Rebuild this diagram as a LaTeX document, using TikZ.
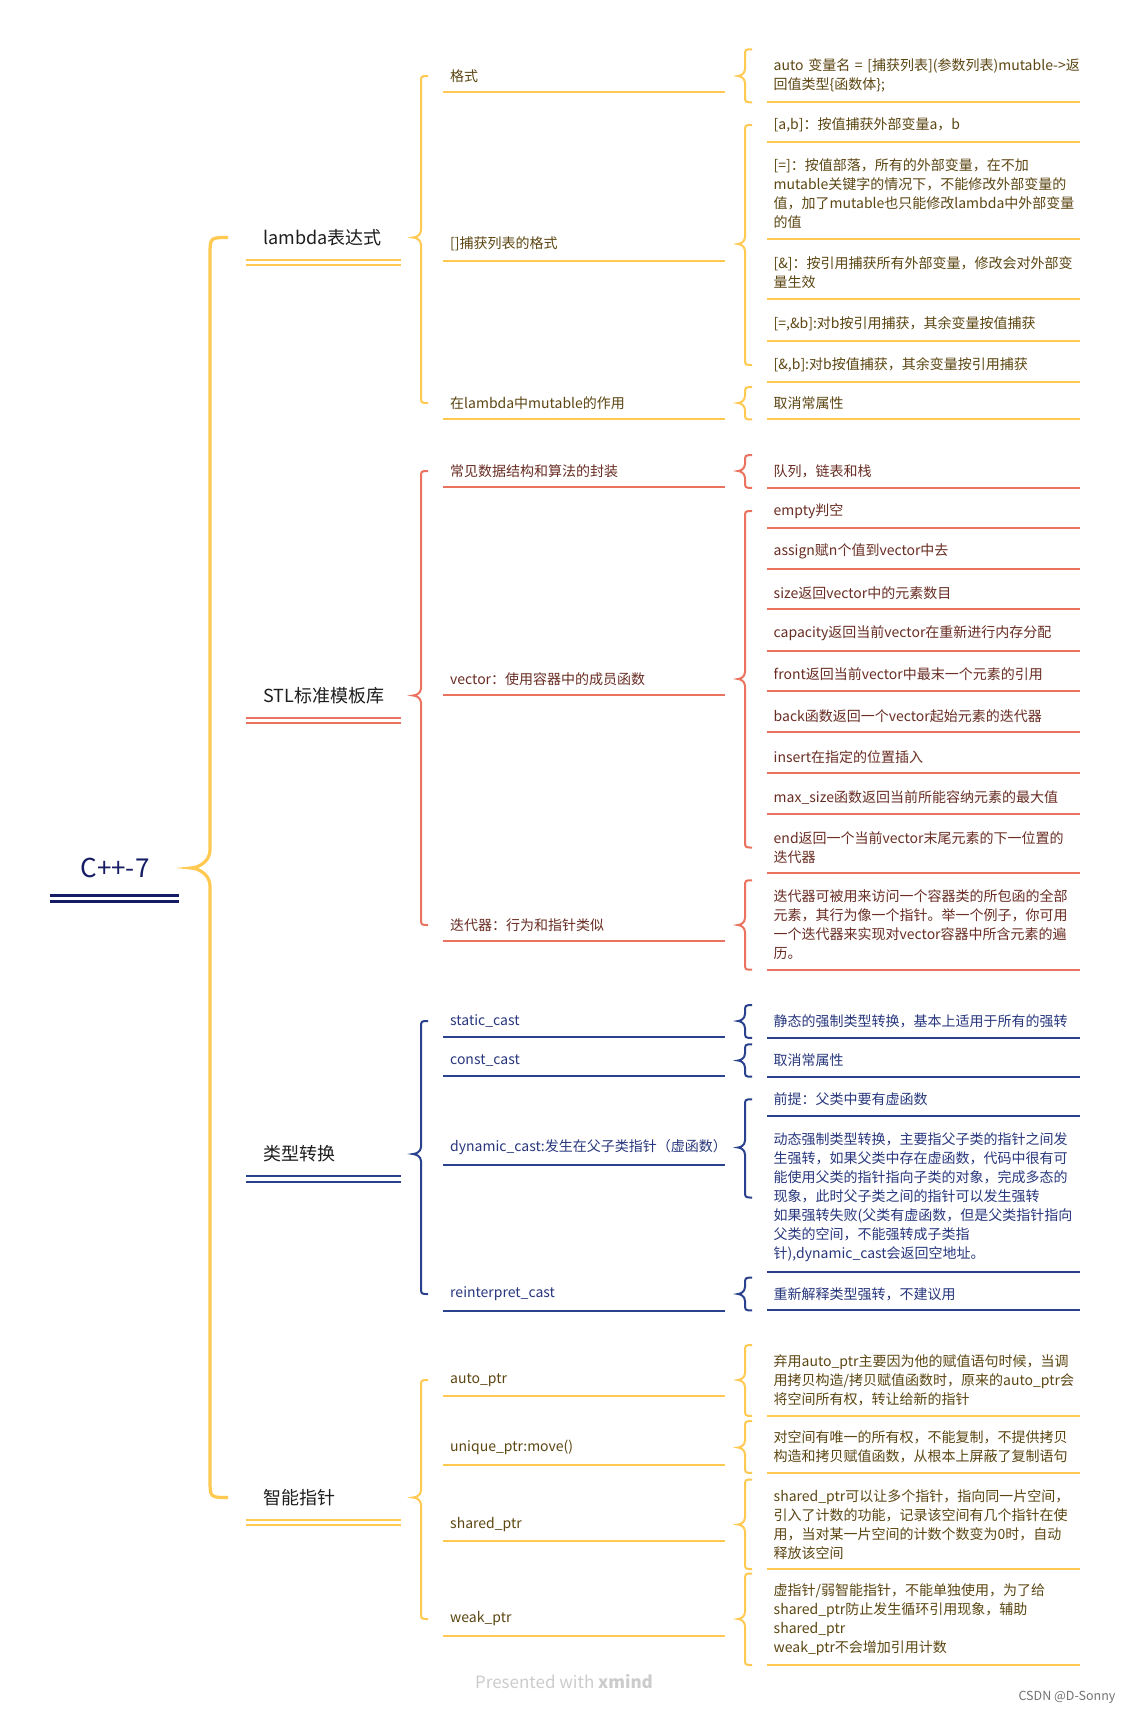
\documentclass[tikz,border=0pt]{standalone}
\usepackage{fontspec}
\setmainfont{Noto Sans CJK SC}
\usetikzlibrary{calc}

\definecolor{yel}{RGB}{255,201,82}
\definecolor{yeltxt}{RGB}{92,70,18}
\definecolor{cor}{RGB}{234,114,94}
\definecolor{cortxt}{RGB}{105,45,35}
\definecolor{blu}{RGB}{42,66,142}
\definecolor{blutxt}{RGB}{40,55,125}
\definecolor{navy}{RGB}{22,28,100}
\definecolor{ink}{RGB}{30,30,30}

% curly bracket: style, spine offset, radius, tip, top, bottom
\newcommand\curly[6]{%
  \draw[#1] let \p1=#4, \p2=#5, \p3=#6 in
    (\x1+#2pt+#3pt,\y2) .. controls (\x1+#2pt,\y2) .. (\x1+#2pt,\y2-#3pt)
    -- (\x1+#2pt,\y1+#3pt) .. controls (\x1+#2pt,\y1+0.3*#3pt) and (\x1+0.3*#2pt,\y1) .. (\x1,\y1)
    .. controls (\x1+0.3*#2pt,\y1) and (\x1+#2pt,\y1-0.3*#3pt) .. (\x1+#2pt,\y1-#3pt)
    -- (\x1+#2pt,\y3+#3pt) .. controls (\x1+#2pt,\y3) .. (\x1+#2pt+#3pt,\y3);}

\begin{document}
\begin{tikzpicture}[x=1pt, y=1pt,
  rootnode/.style={font=\fontsize{26pt}{30pt}\selectfont, text=navy, inner sep=0pt,
    append after command={([xshift=-65pt,yshift=-30.3pt]\tikzlastnode.center)
      edge[draw=navy, line width=2.8pt, double=white, double distance=3pt]
      ([xshift=64pt,yshift=-30.3pt]\tikzlastnode.center)}},
  topic/.style={font=\fontsize{18pt}{22pt}\selectfont, text=ink, anchor=west,
    text width=138pt, inner xsep=0pt, inner ysep=16.25pt, text height=15pt, text depth=2pt,
    append after command={([xshift=-17pt]\tikzlastnode.south west)
      edge[draw=#1, line width=2pt, double=white, double distance=3.3pt]
      (\tikzlastnode.south east)}},
  sub/.style={font=\fontsize{14pt}{19pt}\selectfont, text=#1txt, anchor=west, align=left,
    text width=275pt, inner xsep=0pt, inner ysep=9.5pt,
    append after command={([xshift=-7pt]\tikzlastnode.south west)
      edge[draw=#1, line width=2pt] (\tikzlastnode.south east)}},
  leaf/.style={font=\fontsize{14pt}{19pt}\selectfont, text=#1txt, anchor=west, align=left,
    text width=306pt, inner xsep=0pt, inner ysep=9.5pt,
    append after command={([xshift=-6.5pt]\tikzlastnode.south west)
      edge[draw=#1, line width=2pt] (\tikzlastnode.south east)}},
]

% --- canvas
\fill[white] (0,0) rectangle (1130,-1714);
\useasboundingbox (0,0) rectangle (1130,-1714);

\def\xB{263}    % topic text
\def\xC{450}    % subtopic text
\def\xD{773.5}  % leaf text
\coordinate (tipA) at (191,0);
\coordinate (tipB) at (413,0);
\coordinate (tipC) at (738,0);

% --- root and topics
\node[rootnode] (root) at (115,-868) {C++-7};
\node[topic=yel] (lam) at (\xB,-237.5) {lambda表达式};
\node[topic=cor] (stl) at (\xB,-695.5) {STL标准模板库};
\node[topic=blu] (cast) at (\xB,-1154) {类型转换};
\node[topic=yel] (ptr) at (\xB,-1497.5) {智能指针};

% --- subtopics
\node[sub=yel] (lamFmt) at (\xC,-76) {格式};
\node[sub=yel] (lamCap) at (\xC,-244) {[]捕获列表的格式};
\node[sub=yel] (lamMut) at (\xC,-403) {在lambda中mutable的作用};
\node[sub=cor] (stlWrap) at (\xC,-471) {常见数据结构和算法的封装};
\node[sub=cor] (stlVec) at (\xC,-679) {vector：使用容器中的成员函数};
\node[sub=cor] (stlIter) at (\xC,-925) {迭代器：行为和指针类似};
\node[sub=blu] (castSta) at (\xC,-1021) {static\_cast};
\node[sub=blu] (castCon) at (\xC,-1060.5) {const\_cast};
\node[sub=blu] (castDyn) at (\xC,-1147.5) {dynamic\_cast:发生在父子类指针（虚函数）};
\node[sub=blu] (castRei) at (\xC,-1294) {reinterpret\_cast};
\node[sub=yel] (ptrAuto) at (\xC,-1380) {auto\_ptr};
\node[sub=yel] (ptrUni) at (\xC,-1447.5) {unique\_ptr:move()};
\node[sub=yel] (ptrSha) at (\xC,-1524.5) {shared\_ptr};
\node[sub=yel] (ptrWeak) at (\xC,-1619) {weak\_ptr};

% --- leaves: lambda
\node[leaf=yel] (fmtA) at (\xD,-75.8) {\mbox{auto 变量名 = [捕获列表](参数列表)mutable->返}\\回值类型\{函数体\};};
\node[leaf=yel] (capA) at (\xD,-125) {[a,b]：按值捕获外部变量a，b};
\node[leaf=yel] (capB) at (\xD,-193.8) {[=]：按值部落，所有的外部变量，在不加\\mutable关键字的情况下，不能修改外部变量的\\值，加了mutable也只能修改lambda中外部变量\\的值};
\node[leaf=yel] (capC) at (\xD,-272.8) {[\&]：按引用捕获所有外部变量，修改会对外部变\\量生效};
\node[leaf=yel] (capD) at (\xD,-324.3) {[=,\&b]:对b按引用捕获，其余变量按值捕获};
\node[leaf=yel] (capE) at (\xD,-365) {[\&,b]:对b按值捕获，其余变量按引用捕获};
\node[leaf=yel] (mutA) at (\xD,-403.3) {取消常属性};

% --- leaves: STL
\node[leaf=cor] (wrapA) at (\xD,-471.5) {队列，链表和栈};
\node[leaf=cor] (vecA) at (\xD,-511) {empty判空};
\node[leaf=cor] (vecB) at (\xD,-551.7) {assign赋n个值到vector中去};
\node[leaf=cor] (vecC) at (\xD,-592.7) {size返回vector中的元素数目};
\node[leaf=cor] (vecD) at (\xD,-633.3) {capacity返回当前vector在重新进行内存分配};
\node[leaf=cor] (vecE) at (\xD,-674.3) {front返回当前vector中最末一个元素的引用};
\node[leaf=cor] (vecF) at (\xD,-715.7) {back函数返回一个vector起始元素的迭代器};
\node[leaf=cor] (vecG) at (\xD,-756.7) {insert在指定的位置插入};
\node[leaf=cor] (vecH) at (\xD,-797.7) {max\_size函数返回当前所能容纳元素的最大值};
\node[leaf=cor] (vecI) at (\xD,-847.5) {end返回一个当前vector末尾元素的下一位置的\\迭代器};
\node[leaf=cor] (iterA) at (\xD,-925) {迭代器可被用来访问一个容器类的所包函的全部\\元素，其行为像一个指针。举一个例子，你可用\\一个迭代器来实现对vector容器中所含元素的遍\\历。};

% --- leaves: casts
\node[leaf=blu] (staA) at (\xD,-1021.5) {静态的强制类型转换，基本上适用于所有的强转};
\node[leaf=blu] (conA) at (\xD,-1060.5) {取消常属性};
\node[leaf=blu] (dynA) at (\xD,-1099.3) {前提：父类中要有虚函数};
\node[leaf=blu] (dynB) at (\xD,-1197.5) {动态强制类型转换，主要指父子类的指针之间发\\生强转，如果父类中存在虚函数，代码中很有可\\能使用父类的指针指向子类的对象，完成多态的\\现象，此时父子类之间的指针可以发生强转\\如果强转失败(父类有虚函数，但是父类指针指向\\父类的空间，不能强转成子类指\\针),dynamic\_cast会返回空地址。};
\node[leaf=blu] (reiA) at (\xD,-1294) {重新解释类型强转，不建议用};

% --- leaves: smart pointers
\node[leaf=yel] (autoA) at (\xD,-1380.5) {弃用auto\_ptr主要因为他的赋值语句时候，当调\\用拷贝构造/拷贝赋值函数时，原来的auto\_ptr会\\将空间所有权，转让给新的指针};
\node[leaf=yel] (uniA) at (\xD,-1447) {对空间有唯一的所有权，不能复制，不提供拷贝\\构造和拷贝赋值函数，从根本上屏蔽了复制语句};
\node[leaf=yel] (shaA) at (\xD,-1524.3) {shared\_ptr可以让多个指针，指向同一片空间，\\引入了计数的功能，记录该空间有几个指针在使\\用，当对某一片空间的计数个数变为0时，自动\\释放该空间};
\node[leaf=yel] (weakA) at (\xD,-1619.3) {虚指针/弱智能指针，不能单独使用，为了给\\shared\_ptr防止发生循环引用现象，辅助\\shared\_ptr\\weak\_ptr不会增加引用计数};

% --- brackets
\curly{yel, line width=3.2pt}{19}{18}{(root.center -| tipA)}{(lam.center)}{(ptr.center)}

\curly{yel, line width=2pt}{8}{7}{(lam.center -| tipB)}{(lamFmt.center)}{(lamMut.center)}
\curly{cor, line width=2pt}{8}{7}{(stl.center -| tipB)}{(stlWrap.center)}{(stlIter.center)}
\curly{blu, line width=2pt}{8}{7}{(cast.center -| tipB)}{(castSta.center)}{(castRei.center)}
\curly{yel, line width=2pt}{8}{7}{(ptr.center -| tipB)}{(ptrAuto.center)}{(ptrWeak.center)}

\curly{yel, line width=2pt}{7}{7}{(lamFmt.center -| tipC)}{(fmtA.north)}{(fmtA.south)}
\curly{yel, line width=2pt}{7}{7}{(lamCap.center -| tipC)}{(capA.center)}{(capE.center)}
\curly{yel, line width=2pt}{7}{7}{(lamMut.center -| tipC)}{(mutA.north)}{(mutA.south)}
\curly{cor, line width=2pt}{7}{7}{(stlWrap.center -| tipC)}{(wrapA.north)}{(wrapA.south)}
\curly{cor, line width=2pt}{7}{7}{(stlVec.center -| tipC)}{(vecA.center)}{(vecI.center)}
\curly{cor, line width=2pt}{7}{7}{(stlIter.center -| tipC)}{(iterA.north)}{(iterA.south)}
\curly{blu, line width=2pt}{7}{7}{(castSta.center -| tipC)}{(staA.north)}{(staA.south)}
\curly{blu, line width=2pt}{7}{7}{(castCon.center -| tipC)}{(conA.north)}{(conA.south)}
\curly{blu, line width=2pt}{7}{7}{(castDyn.center -| tipC)}{(dynA.center)}{(dynB.center)}
\curly{blu, line width=2pt}{7}{7}{(castRei.center -| tipC)}{(reiA.north)}{(reiA.south)}
\curly{yel, line width=2pt}{7}{7}{(ptrAuto.center -| tipC)}{(autoA.north)}{(autoA.south)}
\curly{yel, line width=2pt}{7}{7}{(ptrUni.center -| tipC)}{(uniA.north)}{(uniA.south)}
\curly{yel, line width=2pt}{7}{7}{(ptrSha.center -| tipC)}{(shaA.north)}{(shaA.south)}
\curly{yel, line width=2pt}{7}{7}{(ptrWeak.center -| tipC)}{(weakA.north)}{(weakA.south)}

% --- footer
\node[font=\fontsize{17pt}{20pt}\selectfont, text=black!20] (mark) at (564,-1682) {Presented with \textbf{xmind}};
\node[font=\fontsize{12.5pt}{15pt}\selectfont, text=black!55] (csdn) at (1067,-1697) {CSDN @D-Sonny};

\end{tikzpicture}
\end{document}
